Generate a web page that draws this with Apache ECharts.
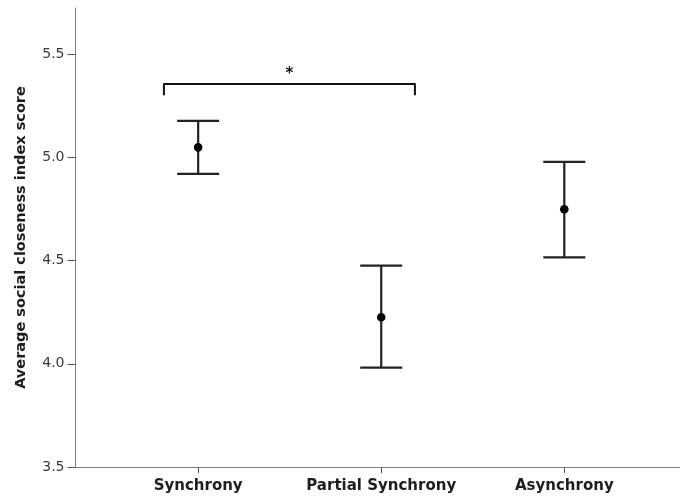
<!DOCTYPE html>
<html><head><meta charset="utf-8">
<script src="https://cdn.jsdelivr.net/npm/echarts@6/dist/echarts.min.js"></script>
<style>html,body{margin:0;padding:0;background:#fff}#c{width:680px;height:497px}</style>
</head><body><div id="c"></div>
<script>
// ---- data ----
const categories = ['Synchrony', 'Partial Synchrony', 'Asynchrony'];
const means  = [5.048, 4.225, 4.748];
const lowers = [4.920, 3.981, 4.515];
const uppers = [5.176, 4.475, 4.978];
const yTicks = [3.5, 4.0, 4.5, 5.0, 5.5];
const yTickLabels = ['3.5', '4.0', '4.5', '5.0', '5.5'];
const bracketFrom = [0.813];   // x positions (category index + 1 scale) of bracket ends
const bracketTo = [2.184];
const bracketLevel = [5.355];
const bracketEnd = [5.301];
const bracketLabel = ['*'];

// ---- build ----
const xPos = categories.map((c, i) => i + 1);
const errData = categories.map((c, i) => [xPos[i], lowers[i], uppers[i], means[i]]);
const brData = bracketFrom.map((f, i) => [f, bracketTo[i], bracketLevel[i], bracketEnd[i]]);

const chart = echarts.init(document.getElementById('c'), null, {renderer: 'canvas'});
const axisColor = '#808080';
chart.setOption({
  animation: false,
  backgroundColor: '#fff',
  grid: {left: 75.5, right: 0, top: 8, bottom: 30, containLabel: false},
  xAxis: {
    type: 'value', min: 0.33, max: 3.632,
    splitLine: {show: false},
    axisLine: {show: true, onZero: false, lineStyle: {color: axisColor, width: 1}},
    axisTick: {show: true, customValues: xPos, length: 6, lineStyle: {color: '#555', width: 1}},
    axisLabel: {
      customValues: xPos, margin: 12,
      formatter: v => categories[Math.round(v) - 1] || '',
      fontFamily: 'DejaVu Sans', fontWeight: 'bold', fontSize: 15, color: '#1e1e1e'
    }
  },
  yAxis: {
    type: 'value', min: 3.5, max: 5.723,
    splitLine: {show: false},
    name: 'Average social closeness index score',
    nameLocation: 'middle', nameGap: 47,
    nameTextStyle: {fontFamily: 'DejaVu Sans', fontWeight: 'bold', fontSize: 14.5, color: '#1e1e1e'},
    axisLine: {show: true, onZero: false, lineStyle: {color: axisColor, width: 1}},
    axisTick: {show: true, customValues: yTicks, length: 8, lineStyle: {color: '#555', width: 1}},
    axisLabel: {
      customValues: yTicks, margin: 11,
      formatter: v => { const k = yTicks.findIndex(t => Math.abs(t - v) < 1e-6); return k >= 0 ? yTickLabels[k] : ''; },
      fontFamily: 'DejaVu Sans', fontSize: 14, color: '#3a3a3a'
    }
  },
  series: [
    {
      type: 'custom', data: errData,
      renderItem(params, api) {
        const x = api.value(0);
        const pLo = api.coord([x, api.value(1)]);
        const pHi = api.coord([x, api.value(2)]);
        const pM = api.coord([x, api.value(3)]);
        const hw = 21;
        const st = {stroke: '#222', lineWidth: 2.2};
        return {type: 'group', children: [
          {type: 'line', shape: {x1: pLo[0], y1: pLo[1], x2: pHi[0], y2: pHi[1]}, style: st},
          {type: 'line', shape: {x1: pHi[0] - hw, y1: pHi[1], x2: pHi[0] + hw, y2: pHi[1]}, style: st},
          {type: 'line', shape: {x1: pLo[0] - hw, y1: pLo[1], x2: pLo[0] + hw, y2: pLo[1]}, style: st},
          {type: 'circle', shape: {cx: pM[0], cy: pM[1], r: 4.3}, style: {fill: '#000'}}
        ]};
      }
    },
    {
      type: 'custom', data: brData,
      renderItem(params, api) {
        const a = api.coord([api.value(0), api.value(2)]);
        const b = api.coord([api.value(1), api.value(2)]);
        const ae = api.coord([api.value(0), api.value(3)]);
        const be = api.coord([api.value(1), api.value(3)]);
        return {type: 'group', children: [
          {type: 'polyline', shape: {points: [[ae[0], ae[1]], [a[0], a[1]], [b[0], b[1]], [be[0], be[1]]]},
           style: {stroke: '#111', lineWidth: 2, fill: null, lineJoin: 'round'}},
          {type: 'text', x: (a[0] + b[0]) / 2, y: a[1] - 10,
           style: {text: bracketLabel[params.dataIndex], align: 'center', verticalAlign: 'middle',
                   font: 'bold 15px DejaVu Sans', fill: '#111'}}
        ]};
      }
    }
  ]
});
</script></body></html>
